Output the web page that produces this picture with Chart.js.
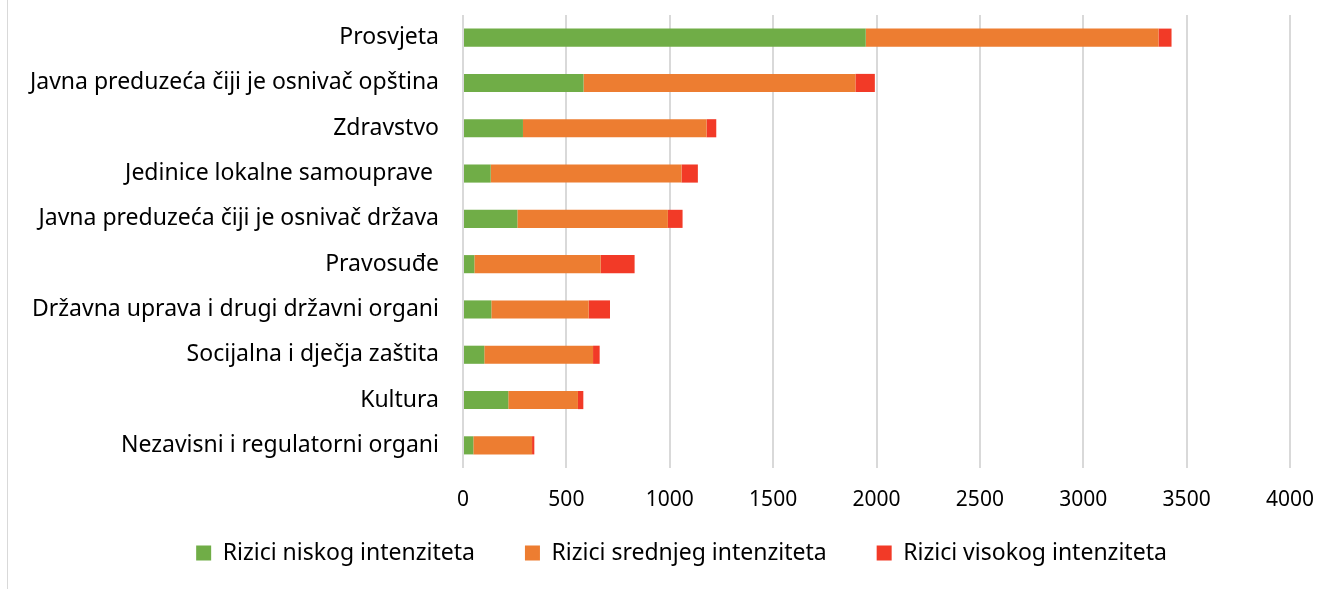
<!DOCTYPE html>
<html>
<head>
<meta charset="utf-8">
<script src="https://cdn.jsdelivr.net/npm/chart.js@4.4.1/dist/chart.umd.min.js"></script>
<style>
    html, body { margin: 0; padding: 0; background: #fff; }
    #wrap { position: relative; width: 1318px; height: 589px; }
    #okvir { position: absolute; left: 7px; top: 0; width: 1px; height: 589px; background: #d9d9d9; }
</style>
</head>
<body>
<div id="wrap">
    <canvas id="chartRizici" width="1318" height="589"></canvas>
    <div id="okvir"></div>
</div>
<script>
// Kategorije (od vrha prema dnu)
const kategorije = [
    'Prosvjeta',
    'Javna preduzeća čiji je osnivač opština',
    'Zdravstvo',
    'Jedinice lokalne samouprave ',
    'Javna preduzeća čiji je osnivač država',
    'Pravosuđe',
    'Državna uprava i drugi državni organi',
    'Socijalna i dječja zaštita',
    'Kultura',
    'Nezavisni i regulatorni organi'
];

// Broj rizika po intenzitetu
const niski = [1948, 583, 290, 134, 263, 55, 137, 103, 219, 50];
const srednji = [1416, 1315, 888, 923, 728, 611, 471, 526, 337, 284];
const visoki = [63, 94, 47, 79, 71, 164, 103, 32, 26, 11];

const nazivSerija = ['Rizici niskog intenziteta', 'Rizici srednjeg intenziteta', 'Rizici visokog intenziteta'];

const osaMin = 0;
const osaMax = 4000;
const osaKorak = 500;

const font = "'Noto Sans', sans-serif";

// legenda je u originalu pomaknuta udesno i bliže osi
const pomakLegende = {
    id: 'pomakLegende',
    afterLayout(chart) {
        const l = chart.legend;
        l.left += 73;
        l.top = chart.chartArea.bottom + 23.5;
        l.height = 83;
        l.bottom = l.top + l.height;
    }
};

const ctx = document.getElementById('chartRizici').getContext('2d');

new Chart(ctx, {
    type: 'bar',
    data: {
        labels: kategorije,
        datasets: [
            { label: nazivSerija[0], data: niski, backgroundColor: '#70ad47' },
            { label: nazivSerija[1], data: srednji, backgroundColor: '#ed7d31' },
            { label: nazivSerija[2], data: visoki, backgroundColor: '#f23a27' }
        ]
    },
    plugins: [pomakLegende],
    options: {
        indexAxis: 'y',
        responsive: false,
        animation: false,
        devicePixelRatio: 1,
        datasets: {
            bar: {
                categoryPercentage: 1,
                barPercentage: 0.4
            }
        },
        layout: {
            padding: { top: 15, right: 28, bottom: 17, left: 0 }
        },
        plugins: {
            tooltip: { enabled: false },
            legend: {
                position: 'bottom',
                maxHeight: 60,
                labels: {
                    color: '#000',
                    font: { family: font, size: 23 },
                    boxWidth: 15,
                    boxHeight: 15,
                    padding: 50
                }
            }
        },
        scales: {
            x: {
                stacked: true,
                min: osaMin,
                max: osaMax,
                ticks: {
                    stepSize: osaKorak,
                    color: '#000',
                    font: { family: font, size: 21 },
                    padding: 19,
                    callback: v => String(v)
                },
                grid: {
                    color: '#d9d9d9',
                    lineWidth: 2,
                    drawTicks: false
                },
                border: { display: false },
                afterFit: scale => {
                    scale.height = 44;
                    scale.paddingLeft = 0;
                    scale.paddingRight = 0;
                }
            },
            y: {
                stacked: true,
                ticks: {
                    color: '#000',
                    font: { family: font, size: 23 },
                    padding: 24
                },
                grid: { display: false, drawTicks: false },
                border: { display: false },
                afterFit: scale => {
                    scale.width = 463;
                    scale.paddingTop = 0;
                    scale.paddingBottom = 0;
                }
            }
        }
    }
});
</script>
</body>
</html>
